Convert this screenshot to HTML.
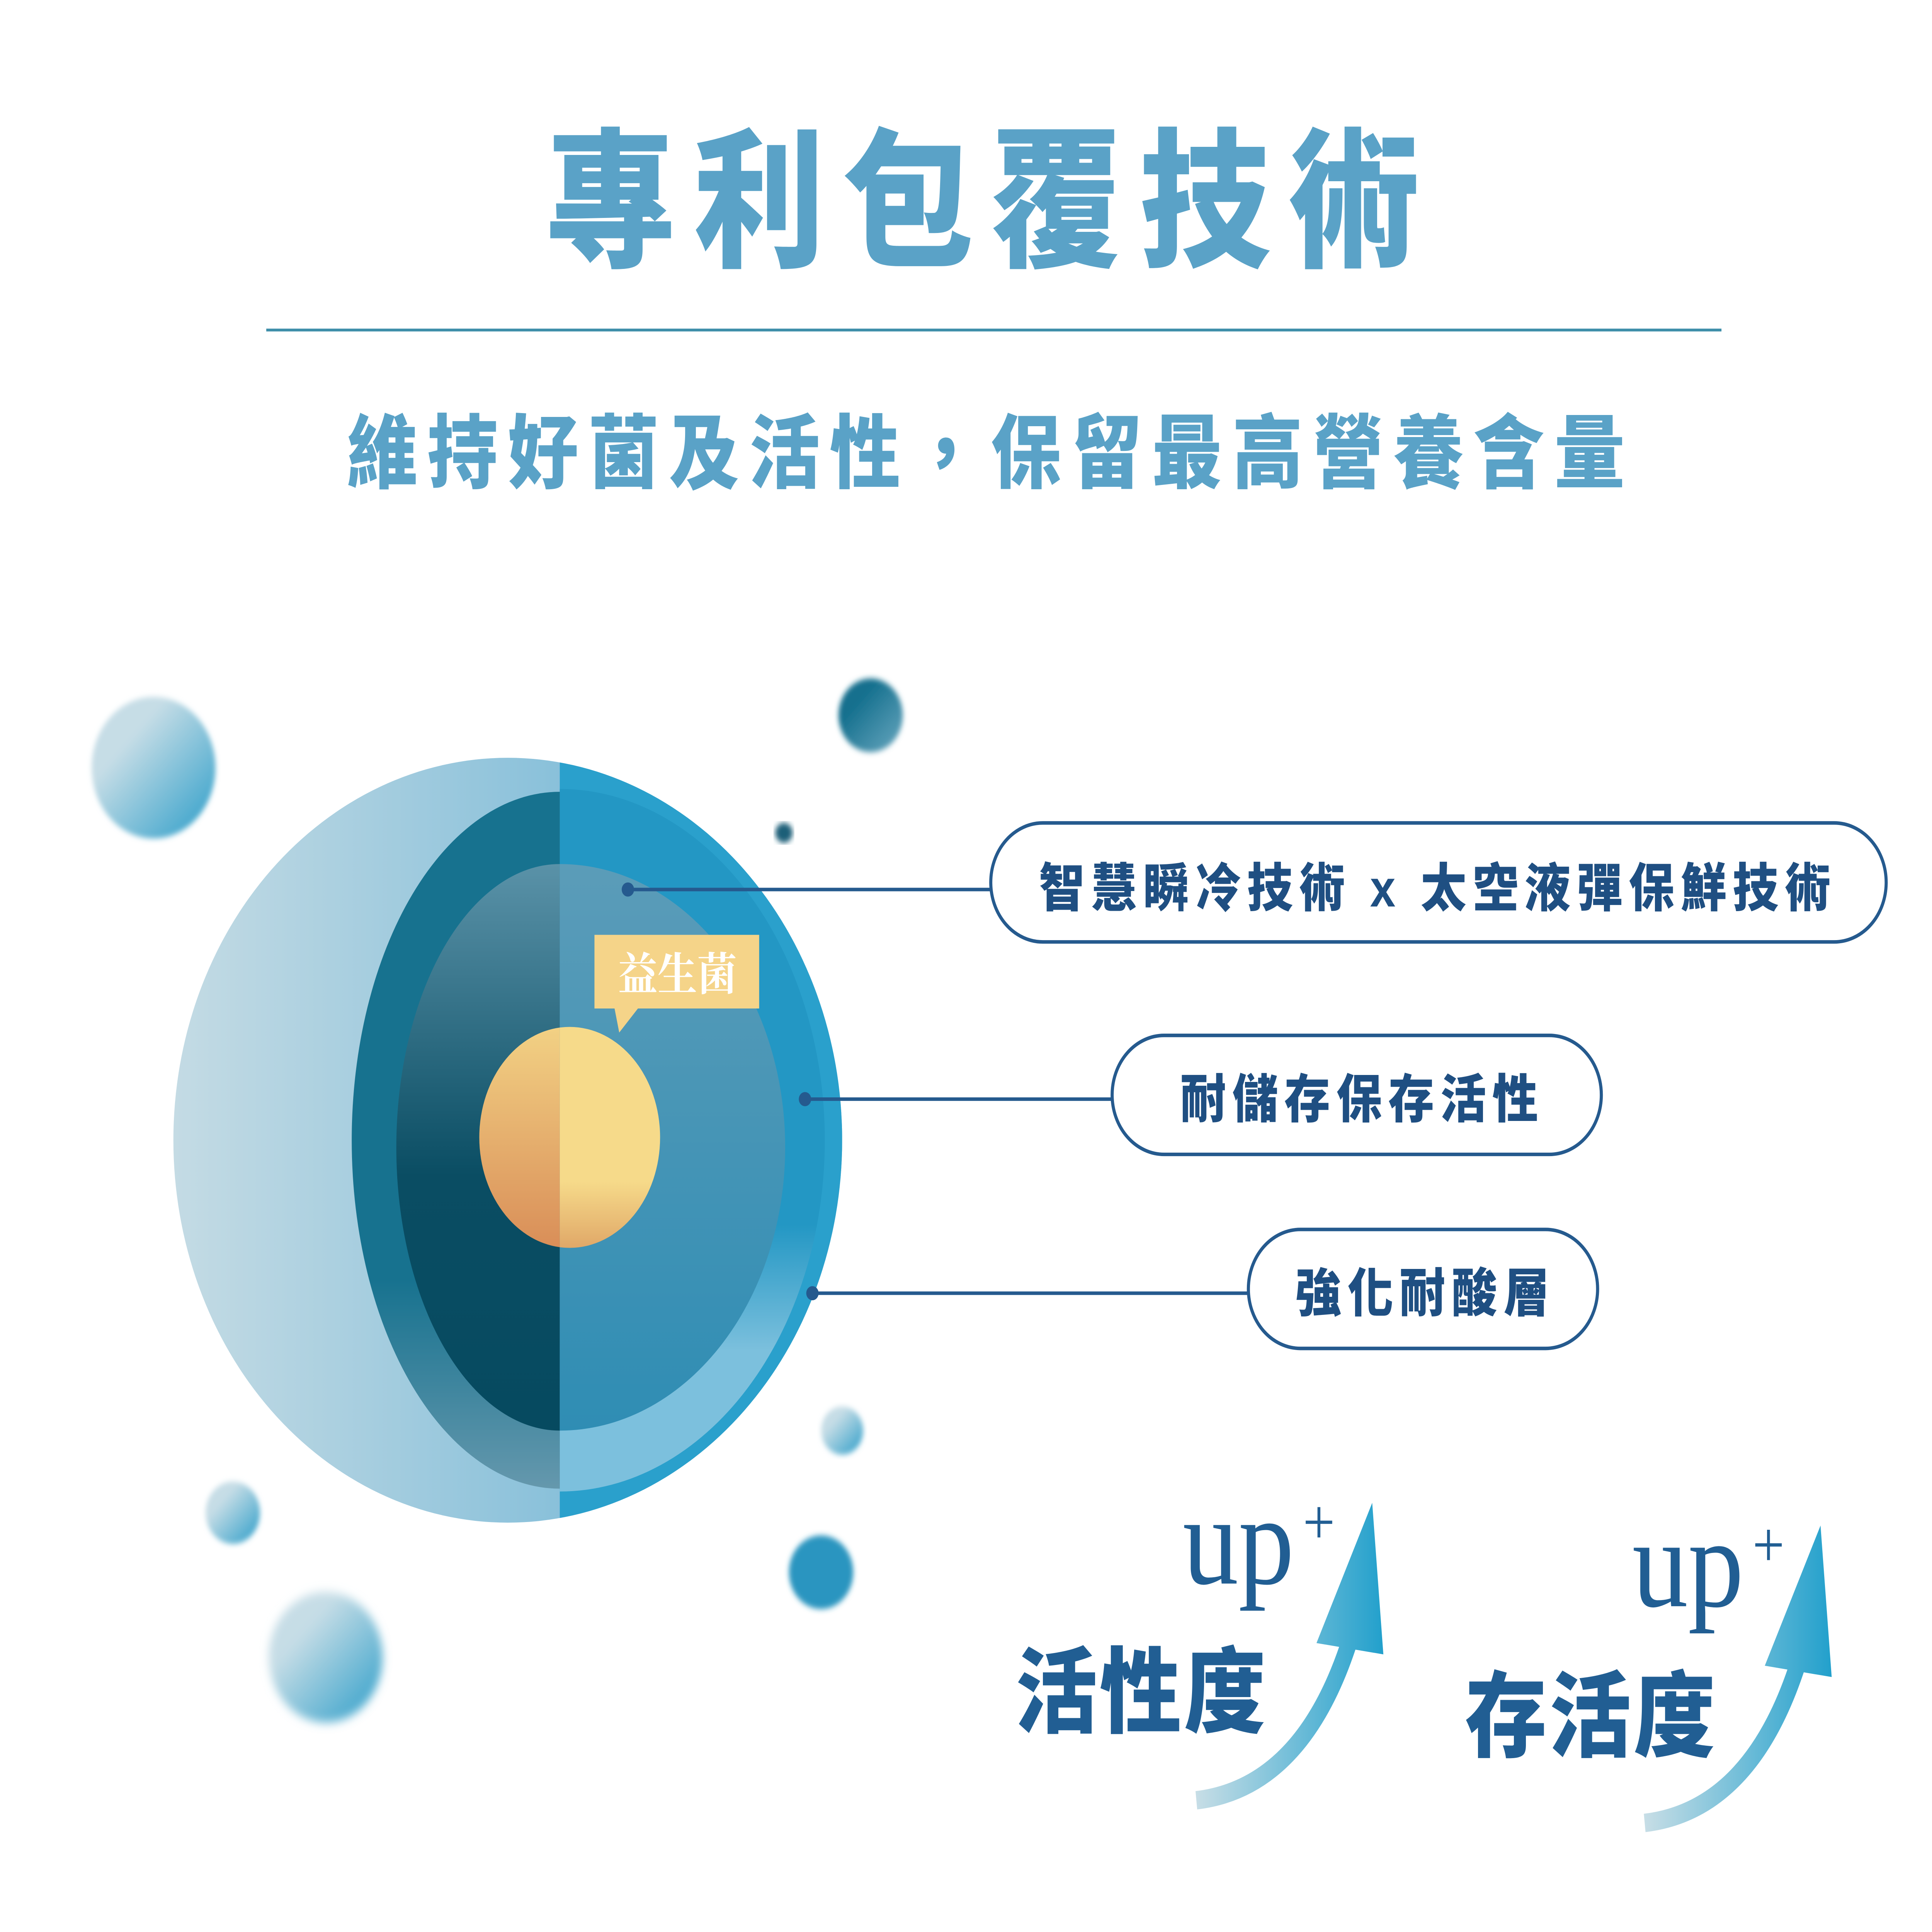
<!DOCTYPE html>
<html><head><meta charset="utf-8"><style>
html,body{margin:0;padding:0;background:#fff;width:100%;height:100%;overflow:hidden;}
svg{display:block;width:100vw;height:100vh;}
</style></head><body>
<svg viewBox="0 0 1560 1364" preserveAspectRatio="none" xmlns="http://www.w3.org/2000/svg">
<defs>
<linearGradient id="outer" x1="0" x2="1" y1="0" y2="0"><stop offset="0" stop-color="#c4dbe4"/><stop offset="1" stop-color="#5eadd3"/></linearGradient>
<linearGradient id="ring" x1="0" x2="0" y1="0" y2="1"><stop offset="0" stop-color="#17728f"/><stop offset="0.7" stop-color="#17728f"/><stop offset="1" stop-color="#6598ad"/></linearGradient>
<linearGradient id="shell" x1="0" x2="0" y1="0" y2="1"><stop offset="0" stop-color="#2397c4"/><stop offset="0.62" stop-color="#2397c4"/><stop offset="0.8" stop-color="#7cc0dd"/><stop offset="1" stop-color="#7cc0dd"/></linearGradient>
<linearGradient id="darkL" x1="0" x2="0" y1="0" y2="1"><stop offset="0" stop-color="#5a92a8"/><stop offset="0.55" stop-color="#0a4d63"/><stop offset="1" stop-color="#064a60"/></linearGradient>
<linearGradient id="inR" x1="0" x2="0" y1="0" y2="1"><stop offset="0" stop-color="#5b9cb8"/><stop offset="1" stop-color="#2f8db4"/></linearGradient>
<linearGradient id="coreL" x1="0" x2="0" y1="0" y2="1"><stop offset="0" stop-color="#f2d184"/><stop offset="1" stop-color="#d98e58"/></linearGradient>
<linearGradient id="coreR" x1="0" x2="0" y1="0" y2="1"><stop offset="0" stop-color="#f6da8a"/><stop offset="0.7" stop-color="#f6da8a"/><stop offset="1" stop-color="#e0a868"/></linearGradient>
<linearGradient id="arr" gradientUnits="userSpaceOnUse" x1="965" x2="1117" y1="0" y2="0"><stop offset="0" stop-color="#c8dee6"/><stop offset="1" stop-color="#22a0cc"/></linearGradient>
<linearGradient id="bub1" x1="0" x2="1" y1="0" y2="1"><stop offset="0.3" stop-color="#c6dde6"/><stop offset="1" stop-color="#2a9cc8"/></linearGradient>
<linearGradient id="bub2" x1="0" x2="1" y1="0" y2="1"><stop offset="0.3" stop-color="#15708e"/><stop offset="1" stop-color="#6aa8c0"/></linearGradient>
<filter id="blur"><feGaussianBlur stdDeviation="2"/></filter>
<filter id="blur2"><feGaussianBlur stdDeviation="3.5"/></filter>
<clipPath id="leftC"><rect x="0" y="0" width="452" height="1364"/></clipPath>
<clipPath id="rightC"><rect x="452" y="0" width="500" height="1364"/></clipPath>
<clipPath id="outC"><circle cx="410" cy="805" r="270"/></clipPath>
</defs>

<text x="800" y="180" text-anchor="middle" font-family="Liberation Sans, Noto Sans CJK TC, sans-serif" font-weight="900" font-size="106" letter-spacing="14" fill="#5aa2c7">專利包覆技術</text>
<line x1="215" y1="233" x2="1390" y2="233" stroke="#3d8ea9" stroke-width="2"/>
<text x="800" y="340" text-anchor="middle" font-family="Liberation Sans, Noto Sans CJK TC, sans-serif" font-weight="900" font-size="57" letter-spacing="8" fill="#5aa2c7">維持好菌及活性，保留最高營養含量</text>

<circle cx="124" cy="542" r="50" fill="url(#bub1)" filter="url(#blur)"/>
<circle cx="703" cy="505" r="26" fill="url(#bub2)" filter="url(#blur)"/>
<circle cx="633" cy="588" r="7" fill="#1d5f78" filter="url(#blur)"/>
<circle cx="680" cy="1010" r="17" fill="url(#bub1)" filter="url(#blur)"/>
<circle cx="188" cy="1068" r="22" fill="url(#bub1)" filter="url(#blur)"/>
<circle cx="663" cy="1110" r="26" fill="#2a95c0" filter="url(#blur)"/>
<circle cx="263" cy="1170" r="46" fill="url(#bub1)" filter="url(#blur2)"/>

<circle cx="410" cy="805" r="270" fill="url(#outer)"/>
<g clip-path="url(#outC)">
<rect x="452" y="500" width="260" height="600" fill="#2aa0cc"/>
<ellipse cx="452" cy="805" rx="214" ry="248" clip-path="url(#rightC)" fill="url(#shell)"/>
</g>
<ellipse cx="452" cy="805" rx="168" ry="246" clip-path="url(#leftC)" fill="url(#ring)"/>
<ellipse cx="452" cy="810" rx="132" ry="200" clip-path="url(#leftC)" fill="url(#darkL)"/>
<ellipse cx="452" cy="810" rx="182" ry="200" clip-path="url(#rightC)" fill="url(#inR)"/>
<ellipse cx="460" cy="803" rx="73" ry="78" clip-path="url(#leftC)" fill="url(#coreL)"/>
<ellipse cx="460" cy="803" rx="73" ry="78" clip-path="url(#rightC)" fill="url(#coreR)"/>

<rect x="480" y="660" width="133" height="52" fill="#f5d489"/>
<polygon points="496,711 516,711 500,729" fill="#f5d489"/>
<text x="547" y="699" text-anchor="middle" font-family="Liberation Serif, Noto Serif CJK SC, serif" font-weight="700" font-size="32" fill="#ffffff">益生菌</text>

<g stroke="#255a8e" stroke-width="2.5" fill="none">
<line x1="507" y1="628" x2="800" y2="628"/>
<line x1="650" y1="776" x2="898" y2="776"/>
<line x1="656" y1="913" x2="1008" y2="913"/>
<rect x="800" y="581" width="723" height="84" rx="42"/>
<rect x="898" y="731" width="395" height="84" rx="42"/>
<rect x="1008" y="868" width="282" height="84" rx="42"/>
</g>
<circle cx="507" cy="628" r="5" fill="#255a8e"/>
<circle cx="650" cy="776" r="5" fill="#255a8e"/>
<circle cx="656" cy="913" r="5" fill="#255a8e"/>
<g font-family="Liberation Sans, Noto Sans CJK TC, sans-serif" font-weight="900" font-size="37" fill="#1f4f82" letter-spacing="5">
<text x="1161" y="640" text-anchor="middle">智慧瞬冷技術 x 太空液彈保鮮技術</text>
<text x="1100" y="789" text-anchor="middle">耐儲存保存活性</text>
<text x="1151" y="926" text-anchor="middle">強化耐酸層</text>
</g>

<g font-family="Liberation Serif, serif" fill="#215e93">
<text x="955" y="1118" font-size="90">up</text><text x="1052" y="1090" font-size="46">+</text>
<text x="1318" y="1134" font-size="90">up</text><text x="1415" y="1106" font-size="46">+</text>
</g>
<g font-family="Liberation Sans, Noto Sans CJK TC, sans-serif" font-weight="900" font-size="66" fill="#215e93" letter-spacing="2">
<text x="820" y="1218">活性度</text>
<text x="1183" y="1235">存活度</text>
</g>
<g id="ar">
<path d="M966 1271 Q1052 1262 1090 1158" fill="none" stroke="url(#arr)" stroke-width="13"/>
<polygon points="1108,1061 1063,1160 1117,1168" fill="url(#arr)"/>
</g>
<use href="#ar" transform="translate(362,16)"/>
</svg>
</body></html>
